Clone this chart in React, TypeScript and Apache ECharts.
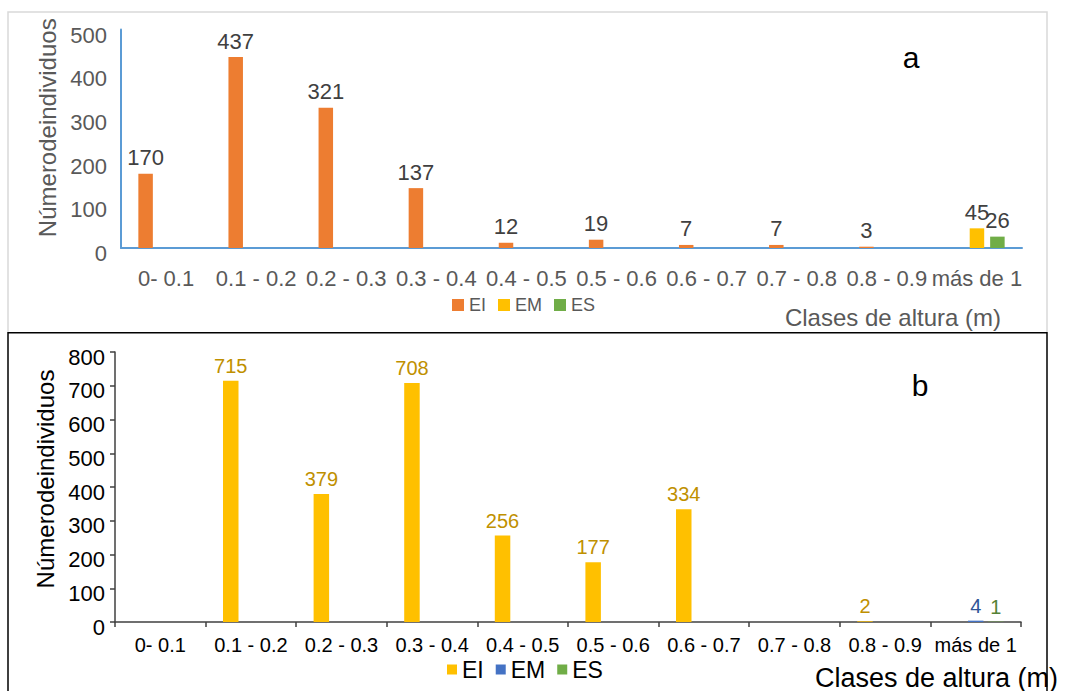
import React, { useEffect, useRef } from 'react';
import * as echarts from 'echarts';

const FONT = '"Liberation Sans", Arial, sans-serif';

const categories = ['0- 0.1', '0.1 - 0.2', '0.2 - 0.3', '0.3 - 0.4', '0.4 - 0.5', '0.5 - 0.6', '0.6 - 0.7', '0.7 - 0.8', '0.8 - 0.9', 'más de 1'];
const seriesNames = ['EI', 'EM', 'ES'];

// Chart a
const aEI = [170, 437, 321, 137, 12, 19, 7, 7, 3, null];
const aEM = [null, null, null, null, null, null, null, null, null, 45];
const aES = [null, null, null, null, null, null, null, null, null, 26];

// Chart b
const bEI = [null, 715, 379, 708, 256, 177, 334, null, 2, null];
const bEM = [null, null, null, null, null, null, null, null, null, 4];
const bES = [null, null, null, null, null, null, null, null, null, 1];

const yTitle = 'Númerodeindividuos';
const xTitle = 'Clases de altura (m)';

function optionA(): any {
  const colors = ['#ED7D31', '#FFC000', '#70AD47'];
  const data = [aEI, aEM, aES];
  return {
    animation: false,
    textStyle: { fontFamily: FONT },
    graphic: [
      { type: 'rect', silent: true, z: -1, shape: { x: 8, y: 12, width: 1039, height: 321 }, style: { fill: 'none', stroke: '#D9D9D9', lineWidth: 1.5 } },
      { type: 'text', x: 911, y: 57, style: { text: 'a', fontSize: 30, fill: '#000', align: 'center', verticalAlign: 'middle', fontFamily: FONT } },
    ],
    grid: { left: 121, top: 29.5, width: 901, height: 218.5 },
    legend: {
      left: 452, top: 296, padding: 0, itemWidth: 12, itemHeight: 12, itemGap: 12, icon: 'rect',
      textStyle: { fontSize: 18, color: '#595959', fontFamily: FONT },
      data: seriesNames,
    },
    xAxis: {
      type: 'category', data: categories,
      axisLine: { lineStyle: { color: '#5B9BD5', width: 2 } },
      axisTick: { show: false },
      axisLabel: { interval: 0, fontSize: 22, color: '#595959', margin: 19, fontFamily: FONT },
      name: xTitle, nameLocation: 'end', nameGap: -21,
      nameTextStyle: { fontSize: 24, color: '#595959', align: 'right', verticalAlign: 'top', padding: [57, 0, 0, 0], fontFamily: FONT },
    },
    yAxis: {
      type: 'value', min: 0, max: 500, interval: 100,
      axisLine: { show: true, lineStyle: { color: '#5B9BD5', width: 2 } },
      axisTick: { show: false },
      splitLine: { show: false },
      axisLabel: { fontSize: 22, color: '#595959', margin: 14, verticalAlign: 'top', lineHeight: 11, fontFamily: FONT },
      name: yTitle, nameLocation: 'middle', nameRotate: 90, nameGap: 59,
      nameTextStyle: { fontSize: 24, color: '#595959', padding: [0, 0, 0, 22], fontFamily: FONT },
    },
    series: seriesNames.map((n, i) => ({
      name: n, type: 'bar', data: data[i], barWidth: 14.5, barGap: '41%',
      itemStyle: { color: colors[i] },
      label: { show: true, position: 'top', distance: 5, fontSize: 22, color: '#404040', fontFamily: FONT },
    })),
  };
}

function optionB(): any {
  const colors = ['#FFC000', '#4472C4', '#70AD47'];
  const labelColors = ['#BF9000', '#2F5597', '#548235'];
  const data = [bEI, bEM, bES];
  return {
    animation: false,
    textStyle: { fontFamily: FONT },
    graphic: [
      { type: 'rect', silent: true, z: -1, shape: { x: 8, y: 0.75, width: 1039, height: 400 }, style: { fill: 'none', stroke: '#000', lineWidth: 1.5 } },
      { type: 'text', x: 920, y: 53, style: { text: 'b', fontSize: 30, fill: '#000', align: 'center', verticalAlign: 'middle', fontFamily: FONT } },
    ],
    grid: { left: 115, top: 20, width: 906, height: 272 },
    legend: {
      left: 447, top: 326, padding: 0, itemWidth: 10, itemHeight: 10, itemGap: 12, icon: 'rect',
      textStyle: { fontSize: 23, color: '#000', fontFamily: FONT },
      data: seriesNames,
    },
    xAxis: {
      type: 'category', data: categories,
      axisLine: { lineStyle: { color: '#404040', width: 1.5 } },
      axisTick: { show: true, length: 5, lineStyle: { color: '#404040', width: 1.5 } },
      axisLabel: { interval: 0, fontSize: 20, color: '#000', margin: 13, fontFamily: FONT },
      name: xTitle, nameLocation: 'end', nameGap: 37,
      nameTextStyle: { fontSize: 27, color: '#000', align: 'right', verticalAlign: 'top', padding: [42, 0, 0, 0], fontFamily: FONT },
    },
    yAxis: {
      type: 'value', min: 0, max: 800, interval: 100,
      axisLine: { show: true, lineStyle: { color: '#404040', width: 1.5 } },
      axisTick: { show: true, length: 5, lineStyle: { color: '#404040', width: 1.5 } },
      splitLine: { show: false },
      axisLabel: { fontSize: 22, color: '#000', margin: 10, verticalAlign: 'top', lineHeight: 10, fontFamily: FONT },
      name: yTitle, nameLocation: 'middle', nameRotate: 90, nameGap: 55,
      nameTextStyle: { fontSize: 24, color: '#000', padding: [0, 0, 0, 16], fontFamily: FONT },
    },
    series: seriesNames.map((n, i) => ({
      name: n, type: 'bar', data: data[i], barWidth: 15.5, barGap: '30%',
      itemStyle: { color: colors[i] },
      label: { show: true, position: 'top', distance: 5, fontSize: 20, color: labelColors[i], fontFamily: FONT },
    })),
  };
}

export default function App() {
  const refA = useRef<HTMLDivElement>(null);
  const refB = useRef<HTMLDivElement>(null);
  useEffect(() => {
    const a = echarts.init(refA.current as HTMLDivElement, null, { renderer: 'svg' });
    a.setOption(optionA());
    const b = echarts.init(refB.current as HTMLDivElement, null, { renderer: 'svg' });
    b.setOption(optionB());
    return () => {
      a.dispose();
      b.dispose();
    };
  }, []);
  return (
    <div style={{ position: 'absolute', left: 0, top: 0, width: 1076, height: 691, background: '#fff', overflow: 'hidden' }}>
      <div ref={refA} style={{ position: 'absolute', left: 0, top: 0, width: 1076, height: 332 }} />
      <div ref={refB} style={{ position: 'absolute', left: 0, top: 332, width: 1076, height: 359 }} />
    </div>
  );
}
